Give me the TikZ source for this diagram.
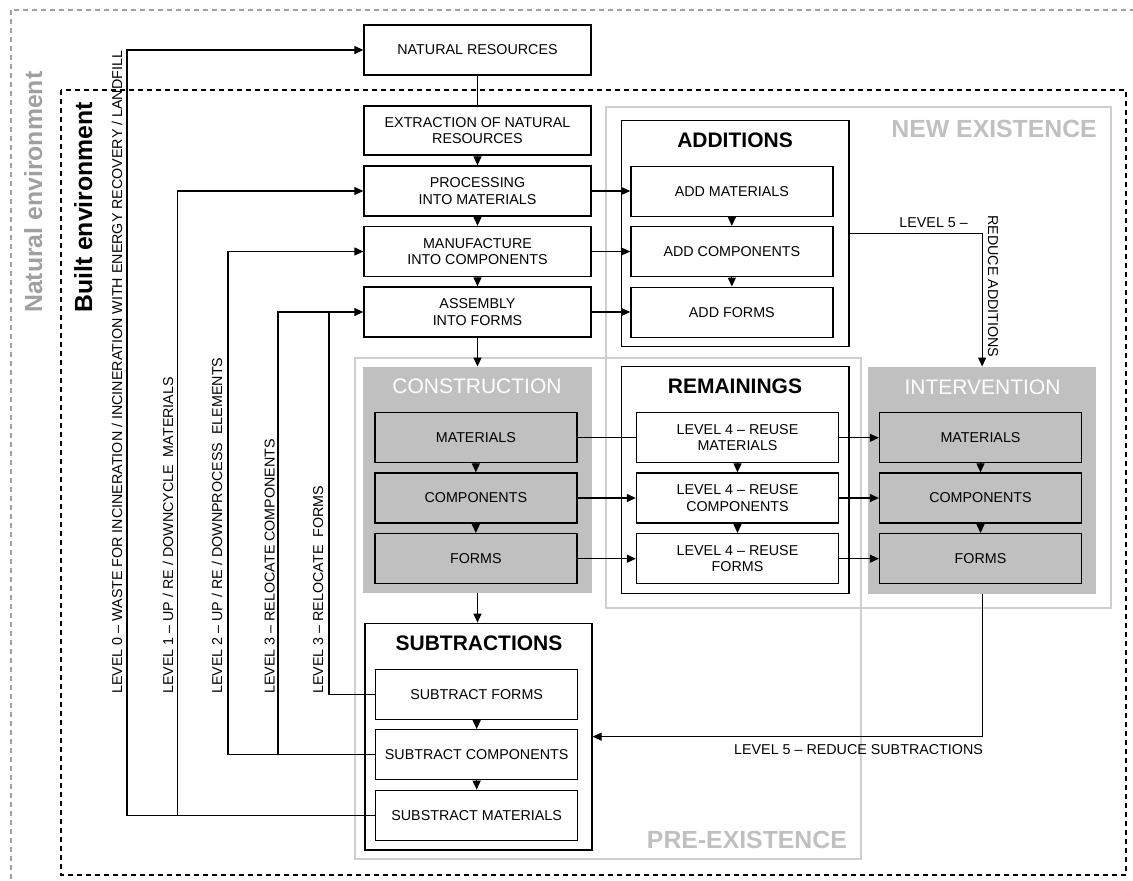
\documentclass[tikz,border=0pt]{standalone}
\usepackage{fontspec}
\setmainfont{Liberation Sans}
\usetikzlibrary{arrows.meta}
\definecolor{fillgray}{HTML}{C0C0C0}
\definecolor{regline}{HTML}{CFCFCF}
\definecolor{reglabel}{HTML}{C0C0C0}
\definecolor{natgray}{HTML}{A0A0A0}
\tikzset{
  small/.style={font=\fontsize{14.3}{16.2}\selectfont},
  pbox/.style={draw, line width=1.3pt, fill=white, minimum width=227pt, minimum height=50pt, inner sep=0pt, align=center, small},
  ibox/.style={draw, line width=1.3pt, fill=white, minimum width=202pt, minimum height=50pt, inner sep=0pt, align=center, small},
  gibox/.style={ibox, fill=fillgray},
  grpbox/.style={draw, line width=1.3pt, fill=white, inner sep=0pt},
  grayblock/.style={fill=fillgray, inner sep=0pt},
  region/.style={draw=regline, line width=1.2pt, inner sep=0pt},
  ttl/.style={font=\fontsize{21}{24}\selectfont\bfseries, inner sep=0pt},
  wttl/.style={font=\fontsize{21}{24}\selectfont, text=white, inner sep=0pt},
  rlbl/.style={font=\fontsize{24.8}{28}\selectfont\bfseries, text=reglabel, inner sep=0pt},
  lbl/.style={small, inner sep=0pt},
  ln/.style={line width=1.2pt},
  arr/.style={line width=1.2pt, -{Triangle[length=9pt,width=8pt]}},
}
\begin{document}
\begin{tikzpicture}[x=1pt,y=-1pt]
\useasboundingbox (0,0) rectangle (1133,881);
\clip (0,0) rectangle (1133,881);
% environments
\draw[natgray, line width=1.2pt, dash pattern=on 5pt off 4pt] (11,10) rectangle (1150,900);
\draw[black, line width=1.2pt, dash pattern=on 5pt off 4pt] (61,90) rectangle (1126,875);
\node[font=\fontsize{24.8}{28}\selectfont\bfseries, text=natgray, rotate=90, anchor=base west, inner sep=0pt] (natlbl) at (42,313) {Natural environment};
\node[font=\fontsize{24.8}{28}\selectfont\bfseries, rotate=90, anchor=base west, inner sep=0pt] (bltlbl) at (92,313) {Built environment};
% regions
\node[region, minimum width=505pt, minimum height=501pt] (newex) at (858.5,357.5) {};
\node[region, minimum width=506pt, minimum height=501pt] (preex) at (608,608.5) {};
\node[rlbl, anchor=base east] (newexlbl) at (1097,137) {NEW EXISTENCE};
\node[rlbl, anchor=base east] (preexlbl) at (847,848) {PRE-EXISTENCE};
% process column
\node[pbox] (nr) at (477.5,50) {NATURAL RESOURCES};
\node[pbox, minimum height=49pt] (ext) at (477.5,130.5) {EXTRACTION OF NATURAL\\RESOURCES};
\node[pbox] (proc) at (477.5,191) {PROCESSING\\INTO MATERIALS};
\node[pbox] (manu) at (477.5,251.5) {MANUFACTURE\\INTO COMPONENTS};
\node[pbox] (assm) at (477.5,312) {ASSEMBLY\\INTO FORMS};
% additions
\node[grpbox, minimum width=227.3pt, minimum height=226pt] (add) at (735.35,233.7) {};
\node[ttl] (addt) at (735,140) {ADDITIONS};
\node[ibox] (am) at (731.85,191.2) {ADD MATERIALS};
\node[ibox] (ac) at (731.85,251.6) {ADD COMPONENTS};
\node[ibox] (af) at (731.85,312.2) {ADD FORMS};
% construction
\node[grayblock, minimum width=228.7pt, minimum height=226.3pt] (cons) at (477.35,479.85) {};
\node[wttl] (const) at (477,386) {CONSTRUCTION};
\node[gibox] (cm) at (475.85,437.8) {MATERIALS};
\node[gibox] (cc) at (475.85,498) {COMPONENTS};
\node[gibox] (cf) at (475.85,558.7) {FORMS};
% remainings
\node[grpbox, minimum width=227.3pt, minimum height=226.6pt] (rem) at (735.35,480) {};
\node[ttl] (remt) at (735,386) {REMAININGS};
\node[ibox] (rm) at (737.5,437.8) {LEVEL 4 – REUSE\\MATERIALS};
\node[ibox] (rc) at (737.5,498) {LEVEL 4 – REUSE\\COMPONENTS};
\node[ibox] (rf) at (737.5,558.7) {LEVEL 4 – REUSE\\FORMS};
% intervention
\node[grayblock, minimum width=227.7pt, minimum height=227.3pt] (int) at (982.15,480.35) {};
\node[wttl] (intt) at (982.5,387) {INTERVENTION};
\node[gibox] (im) at (980.5,437.8) {MATERIALS};
\node[gibox] (ic) at (980.5,498) {COMPONENTS};
\node[gibox] (if) at (980.5,558.7) {FORMS};
% subtractions
\node[grpbox, minimum width=227pt, minimum height=226.7pt] (subs) at (478.5,736.65) {};
\node[ttl] (subst) at (479,643.5) {SUBTRACTIONS};
\node[ibox] (sf) at (476.65,694.5) {SUBTRACT FORMS};
\node[ibox] (sc) at (476.65,754.7) {SUBTRACT COMPONENTS};
\node[ibox] (sm) at (476.65,815.3) {SUBSTRACT MATERIALS};
% column connectors
\draw[ln] (nr.south) -- (ext.north);
\draw[arr] (ext.south) -- (proc.north);
\draw[arr] (proc.south) -- (manu.north);
\draw[arr] (manu.south) -- (assm.north);
\draw[arr] (assm.south) -- (assm.south |- cons.north);
\draw[arr] (assm.south |- cons.south) -- (assm.south |- subs.north);
\draw[arr] (proc.east) -- (proc.east -| am.west);
\draw[arr] (manu.east) -- (manu.east -| ac.west);
\draw[arr] (assm.east) -- (assm.east -| af.west);
\draw[arr] (am.south) -- (ac.north);
\draw[arr] (ac.south) -- (af.north);
\draw[arr] (cm.south) -- (cc.north);
\draw[arr] (cc.south) -- (cf.north);
\draw[arr] (rm.south) -- (rc.north);
\draw[arr] (rc.south) -- (rf.north);
\draw[arr] (im.south) -- (ic.north);
\draw[arr] (ic.south) -- (if.north);
\draw[arr] (sf.south) -- (sc.north);
\draw[arr] (sc.south) -- (sm.north);
% construction -> remainings -> intervention
\draw[ln] (cm.east) -- (rm.west);
\draw[arr] (cc.east) -- (rc.west);
\draw[arr] (cf.east) -- (rf.west);
\draw[arr] (rm.east) -- (im.west);
\draw[arr] (rc.east) -- (ic.west);
\draw[arr] (rf.east) -- (if.west);
% level 5
\draw[arr] (add.east) -| (int.north);
\node[lbl, anchor=base east] (l5a) at (968,227.5) {LEVEL 5 –};
\node[lbl, rotate=-90, anchor=base west] (l5b) at (988,215) {REDUCE ADDITIONS};
\draw[arr] (int.south) |- (subs.east);
\node[lbl, anchor=base west] (l5c) at (734,754) {LEVEL 5 – REDUCE SUBTRACTIONS};
% feedback loops on the left
\coordinate (x0) at (127,0);
\coordinate (x1) at (177.5,0);
\coordinate (x2) at (228,0);
\coordinate (x3) at (278,0);
\coordinate (x4) at (329,0);
\draw[arr] (sm.west) -- (sm.west -| x0) -- (x0 |- nr.west) -- (nr.west);
\draw[arr] (sm.west -| x1) -- (x1 |- proc.west) -- (proc.west);
\draw[arr] (sc.west) -- (sc.west -| x2) -- (x2 |- manu.west) -- (manu.west);
\draw[arr] (sc.west -| x3) -- (x3 |- assm.west) -- (assm.west);
\draw[ln] (sf.west) -- (sf.west -| x4) -- (x4 |- assm.west);
\node[lbl, rotate=90, anchor=base west] (t0) at (122,694) {LEVEL 0 – WASTE FOR INCINERATION / INCINERATION WITH ENERGY RECOVERY / LANDFILL};
\node[lbl, rotate=90, anchor=base west] (t1) at (173,694) {LEVEL 1 – UP / RE / DOWNCYCLE \ MATERIALS};
\node[lbl, rotate=90, anchor=base west] (t2) at (222,694) {LEVEL 2 – UP / RE / DOWNPROCESS \ ELEMENTS};
\node[lbl, rotate=90, anchor=base west] (t3) at (274.5,694) {LEVEL 3 – RELOCATE COMPONENTS};
\node[lbl, rotate=90, anchor=base west] (t4) at (323,694) {LEVEL 3 – RELOCATE \ FORMS};
\end{tikzpicture}
\end{document}
